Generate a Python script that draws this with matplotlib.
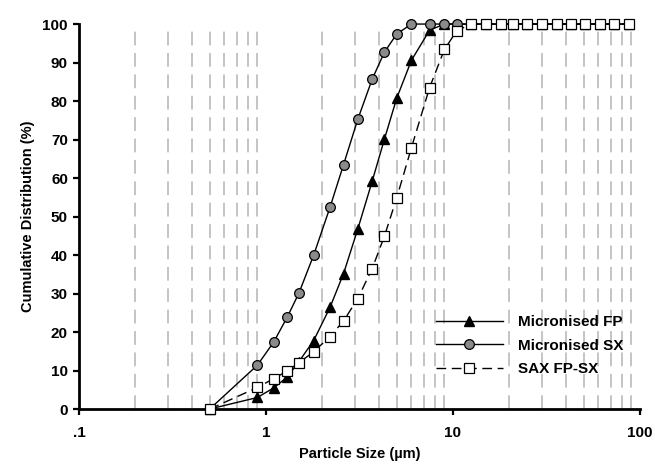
import numpy as np
import matplotlib
matplotlib.use("Agg")
import matplotlib.pyplot as plt
from matplotlib.ticker import FixedLocator, NullLocator

plt.rcParams.update({
    "font.family": ["Liberation Sans", "DejaVu Sans"],
    "font.weight": "bold",
    "font.size": 10,
})

# Sympatec size classes (µm)
size_um = [0.5, 0.9, 1.1, 1.3, 1.5, 1.8, 2.2, 2.6, 3.1, 3.7, 4.3, 5.0, 6.0, 7.5,
           9.0, 10.5, 12.5, 15.0, 18.0, 21.0, 25.0, 30.0, 36.0, 43.0, 51.0, 61.0,
           73.0, 87.0]

micronised_fp = [0, 3.0, 5.5, 8.3, 12.3, 17.8, 26.4, 35.2, 46.8, 59.2, 70.1, 80.7,
                 90.6, 98.4, 100, 100, 100, 100, 100, 100, 100, 100, 100, 100,
                 100, 100, 100, 100]
micronised_sx = [0, 11.4, 17.4, 23.9, 30.1, 40.0, 52.4, 63.5, 75.3, 85.7, 92.7,
                 97.4, 100, 100, 100, 100, 100, 100, 100, 100, 100, 100, 100,
                 100, 100, 100, 100, 100]
sax_fp_sx = [0, 5.6, 7.9, 9.9, 12.0, 14.9, 18.8, 22.9, 28.7, 36.5, 44.9, 54.8,
             67.9, 83.5, 93.4, 98.3, 100, 100, 100, 100, 100, 100, 100, 100,
             100, 100, 100, 100]

x_ticks = [0.1, 1, 10, 100]
x_ticklabels = [".1", "1", "10", "100"]
grid_pos = [m * d for d in (0.1, 1, 10) for m in range(2, 10)]

fig = plt.figure(figsize=(6.55, 4.68), dpi=100)
ax = fig.add_axes([0.1206, 0.126, 0.8564, 0.8226])

# dashed vertical grid at the minor decades
for g in grid_pos:
    ax.axvline(g, color="#b4b4b4", linewidth=1.1, dashes=(9, 5), zorder=0)

ax.plot(size_um, micronised_fp, color="black", linewidth=1.0, marker="^",
        markersize=6.5, markerfacecolor="black", markeredgecolor="black",
        label="Micronised FP", zorder=3, clip_on=False)
ax.plot(size_um, micronised_sx, color="black", linewidth=1.0, marker="o",
        markersize=7, markerfacecolor="#8a8a8a", markeredgecolor="black",
        markeredgewidth=0.9, label="Micronised SX", zorder=4, clip_on=False)
ax.plot(size_um, sax_fp_sx, color="black", linewidth=1.0, dashes=(7, 4),
        marker="s", markersize=6.8, markerfacecolor="white",
        markeredgecolor="black", markeredgewidth=0.9, label="SAX FP-SX",
        zorder=5, clip_on=False)

ax.set_xscale("log")
ax.set_xlim(0.1, 100)
ax.set_ylim(0, 100)
ax.xaxis.set_major_locator(FixedLocator(x_ticks))
ax.xaxis.set_minor_locator(NullLocator())
ax.set_xticklabels(x_ticklabels)
ax.set_yticks(np.arange(0, 101, 10))

for side in ("top", "right"):
    ax.spines[side].set_visible(False)
for side in ("left", "bottom"):
    ax.spines[side].set_linewidth(2.0)
ax.tick_params(axis="both", direction="out", length=4, width=1.6,
               labelsize=11, pad=4)
ax.tick_params(axis="x", pad=8)

ax.set_xlabel("Particle Size (\u00b5m)", fontsize=10.5, fontweight="bold", labelpad=5)
ax.set_ylabel("Cumulative Distribution (%)", fontsize=10.5, fontweight="bold", labelpad=5)

ax.legend(loc="lower right", bbox_to_anchor=(0.995, 0.05), frameon=False,
          handlelength=4.4, fontsize=11, labelspacing=0.62, handletextpad=1.0)

fig.savefig("out.png", dpi=100)
